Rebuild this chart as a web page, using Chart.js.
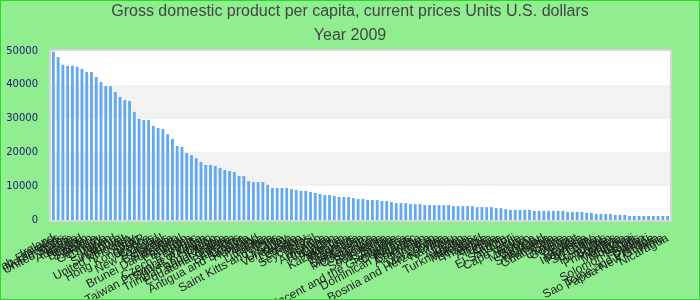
<!DOCTYPE html>
<html>
<head>
<meta charset="utf-8">
<script src="https://cdn.jsdelivr.net/npm/chart.js@4"></script>
<style>
  html, body { margin: 0; padding: 0; background: #90ee90; }
  #wrap { width: 700px; height: 300px; }
</style>
</head>
<body>
<div id="wrap"><canvas id="gdpChart" width="700" height="300"></canvas></div>
<script>
// --- DATA ---
const countries = [
  'Ireland', 'United Arab Emirates', 'Netherlands', 'United States', 'Austria', 'Australia', 'Finland', 'Belgium',
  'Sweden', 'France', 'Germany', 'Canada', 'Japan', 'Iceland', 'Singapore', 'Kuwait', 'United Kingdom', 'Italy',
  'Spain', 'Hong Kong SAR', 'Greece', 'Cyprus', 'New Zealand', 'Israel', 'Bahamas', 'Slovenia', 'Brunei Darussalam',
  'Portugal', 'Bahrain', 'Korea', 'Czech Republic', 'Malta', 'Taiwan Province of China', 'Slovak Republic', 'Oman',
  'Trinidad and Tobago', 'Saudi Arabia', 'Equatorial Guinea', 'Estonia', 'Barbados', 'Croatia', 'Antigua and Barbuda',
  'Hungary', 'Poland', 'Latvia', 'Lithuania', 'Libya', 'Saint Kitts and Nevis', 'Chile', 'Uruguay', 'Venezuela',
  'Russia', 'Lebanon', 'Turkey', 'Seychelles', 'Brazil', 'Mexico', 'Argentina', 'Romania', 'Gabon', 'Panama',
  'Kazakhstan', 'Malaysia', 'Mauritius', 'Grenada', 'Saint Lucia', 'Montenegro', 'Costa Rica', 'Bulgaria', 'Botswana',
  'South Africa', 'Serbia', 'Suriname', 'Saint Vincent and the Grenadines', 'Dominica', 'Belarus', 'Dominican Republic',
  'Colombia', 'Azerbaijan', 'Jamaica', 'Iran', 'Macedonia', 'Bosnia and Herzegovina', 'Namibia', 'Peru', 'Algeria',
  'Jordan', 'Turkmenistan', 'Maldives', 'Ecuador', 'Thailand', 'Belize', 'Albania', 'Tunisia', 'China', 'Angola',
  'El Salvador', 'Fiji', 'Cape Verde', 'Tonga', 'Morocco', 'Samoa', 'Vanuatu', 'Swaziland', 'Armenia', 'Guatemala',
  'Syria', 'Ukraine', 'Guyana', 'Congo', 'Egypt', 'Georgia', 'Indonesia', 'Paraguay', 'Sri Lanka', 'Iraq', 'Honduras',
  'Bhutan', 'Philippines', 'Bolivia', 'Mongolia', 'Moldova', 'Kiribati', 'Solomon Islands', 'Sudan', 'Djibouti',
  'Sao Tome and Principe', 'Papua New Guinea', 'India', 'Nicaragua'
];

const gdpPerCapita = [
  49800, 48200, 45900, 45600, 45600, 45300, 44700, 43800, 43800, 42300,
  40800, 39600, 39600, 37900, 36400, 35500, 35200, 32000, 29900, 29600,
  29600, 27800, 27200, 26900, 25400, 24000, 21900, 21600, 19800, 19200,
  18300, 17200, 16300, 16300, 16000, 15400, 14800, 14500, 14200, 13000,
  13000, 11500, 11200, 11200, 11200, 10400, 9500, 9500, 9500, 9500,
  9200, 8900, 8600, 8600, 8300, 8000, 7700, 7400, 7400, 7100,
  6800, 6800, 6800, 6500, 6200, 6200, 5900, 5900, 5900, 5600,
  5600, 5300, 5000, 5000, 5000, 4700, 4700, 4700, 4400, 4400,
  4400, 4400, 4400, 4400, 4100, 4100, 4100, 4100, 4100, 3800,
  3800, 3800, 3800, 3500, 3500, 3200, 3000, 3000, 3000, 3000,
  3000, 2700, 2700, 2700, 2700, 2700, 2700, 2700, 2400, 2400,
  2400, 2400, 2100, 2100, 1800, 1800, 1800, 1800, 1500, 1500,
  1500, 1200, 1200, 1200, 1200, 1200, 1200, 1200, 1200, 1200
];

const yTicks = [0, 10000, 20000, 30000, 40000, 50000];

const chartTitle = ['Gross domestic product per capita, current prices Units U.S. dollars', 'Year 2009'];

// --- PLUGIN: page background, striped plot bands, borders ---
const bandsPlugin = {
  id: 'bands',
  beforeDraw(chart) {
    const { ctx, chartArea: a, scales } = chart;
    const y = scales.y;
    const left = Math.round(a.left);
    const right = Math.round(a.right);
    ctx.save();
    ctx.fillStyle = '#90ee90';
    ctx.fillRect(0, 0, chart.width, chart.height);
    for (let i = 0; i < yTicks.length - 1; i++) {
      const top = Math.round(y.getPixelForValue(yTicks[i + 1]));
      const bottom = Math.round(y.getPixelForValue(yTicks[i]));
      ctx.fillStyle = i % 2 ? '#f2f2f2' : '#ffffff';
      ctx.fillRect(left, top, right - left, bottom - top);
    }
    ctx.strokeStyle = '#d6d6d6';
    ctx.lineWidth = 2;
    ctx.strokeRect(left - 1, Math.round(a.top) - 1, right - left + 2, Math.round(a.bottom) - Math.round(a.top) + 2);
    ctx.restore();
  },
  afterDraw(chart) {
    const ctx = chart.ctx;
    ctx.save();
    ctx.strokeStyle = '#22dd22';
    ctx.lineWidth = 1;
    ctx.strokeRect(0.5, 0.5, chart.width - 1, chart.height - 1);
    ctx.restore();
  }
};

new Chart(document.getElementById('gdpChart'), {
  type: 'bar',
  data: {
    labels: countries,
    datasets: [{
      data: gdpPerCapita,
      backgroundColor: '#64a9f0',
      borderWidth: 0,
      barPercentage: 0.75,
      categoryPercentage: 0.8
    }]
  },
  options: {
    responsive: false,
    animation: false,
    layout: { padding: 0 },
    plugins: {
      legend: { display: false },
      tooltip: { enabled: false },
      title: {
        display: true,
        text: chartTitle,
        color: '#444444',
        font: { family: '"Liberation Sans", Arial, sans-serif', size: 16, weight: 'normal', lineHeight: 1.5 },
        padding: { top: 0, bottom: 3 }
      }
    },
    scales: {
      x: {
        grid: { display: false },
        border: { display: false },
        ticks: {
          autoSkip: false,
          minRotation: 28,
          maxRotation: 28,
          color: '#1e1e1e',
          font: { family: '"Liberation Sans", Arial, sans-serif', size: 12 }
        },
        afterFit: (scale) => { scale.height = 80; }
      },
      y: {
        min: 0,
        max: 50000,
        grid: { display: false },
        border: { display: false },
        ticks: {
          stepSize: 10000,
          padding: 5,
          color: '#191970',
          font: { family: '"DejaVu Sans", sans-serif', size: 10 },
          callback: (value) => String(value)
        },
        afterFit: (scale) => { scale.width = 51; }
      },
      // empty right-hand axis, only keeps the 30px gap on the right
      gap: {
        position: 'right',
        grid: { display: false },
        border: { display: false },
        ticks: { display: false },
        afterFit: (scale) => { scale.width = 30; }
      }
    }
  },
  plugins: [bandsPlugin]
});
</script>
</body>
</html>
